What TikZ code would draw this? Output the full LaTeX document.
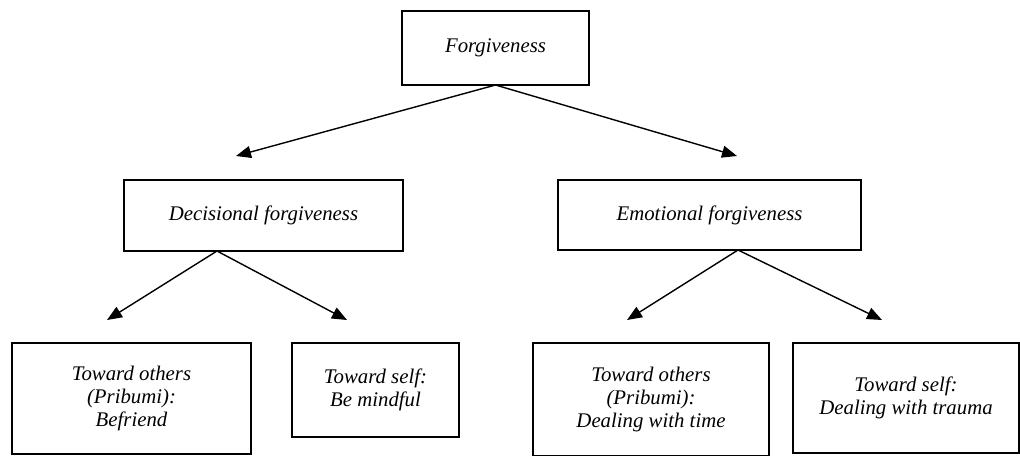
\documentclass[tikz,border=0pt]{standalone}
\usepackage{fontspec}
\setmainfont{Liberation Serif}
\usetikzlibrary{arrows.meta}

\begin{document}
\begin{tikzpicture}[x=0.5pt, y=-0.5pt,
    box/.style={draw, line width=1.3pt, align=center, inner sep=2pt, outer sep=0pt, font=\fontsize{10.4}{11.4}\selectfont\itshape},
    arrow/.style={line width=0.7pt, -{Triangle[length=7.5pt, width=6pt]}}]
    \useasboundingbox (0,0) rectangle (1020,455);

    \node[box, minimum width=93.5pt, minimum height=37pt](forgiveness) at (495.5, 48) {Forgiveness};

    \node[box, minimum width=139.5pt, minimum height=35.5pt](decisional) at (263.5, 215.5) {Decisional forgiveness};
    \node[box, minimum width=151.5pt, minimum height=35pt](emotional) at (709.5, 215) {Emotional forgiveness};

    \node[box, minimum width=119.5pt, minimum height=55.5pt](dec_others) at (131.5, 398.5) {Toward others\\(Pribumi):\\Befriend};
    \node[box, minimum width=83.5pt, minimum height=47pt](dec_self) at (375.5, 390) {Toward self:\\Be mindful};
    \node[box, minimum width=118pt, minimum height=56.5pt](emo_others) at (651, 399.5) {Toward others\\(Pribumi):\\Dealing with time};
    \node[box, minimum width=113pt, minimum height=55pt](emo_self) at (906, 398) {Toward self:\\Dealing with trauma};

    % arrow ends
    \coordinate (dec_tip) at (236, 156);
    \coordinate (emo_tip) at (737, 156);
    \coordinate (dec_fork) at (217, 251);
    \coordinate (emo_fork) at (738, 250);
    \coordinate (dec_others_tip) at (107, 320);
    \coordinate (dec_self_tip) at (347, 320);
    \coordinate (emo_others_tip) at (627, 320);
    \coordinate (emo_self_tip) at (882, 320);

    \draw[arrow] (forgiveness.south) -- (dec_tip);
    \draw[arrow] (forgiveness.south) -- (emo_tip);
    \draw[arrow] (dec_fork) -- (dec_others_tip);
    \draw[arrow] (dec_fork) -- (dec_self_tip);
    \draw[arrow] (emo_fork) -- (emo_others_tip);
    \draw[arrow] (emo_fork) -- (emo_self_tip);
\end{tikzpicture}
\end{document}
